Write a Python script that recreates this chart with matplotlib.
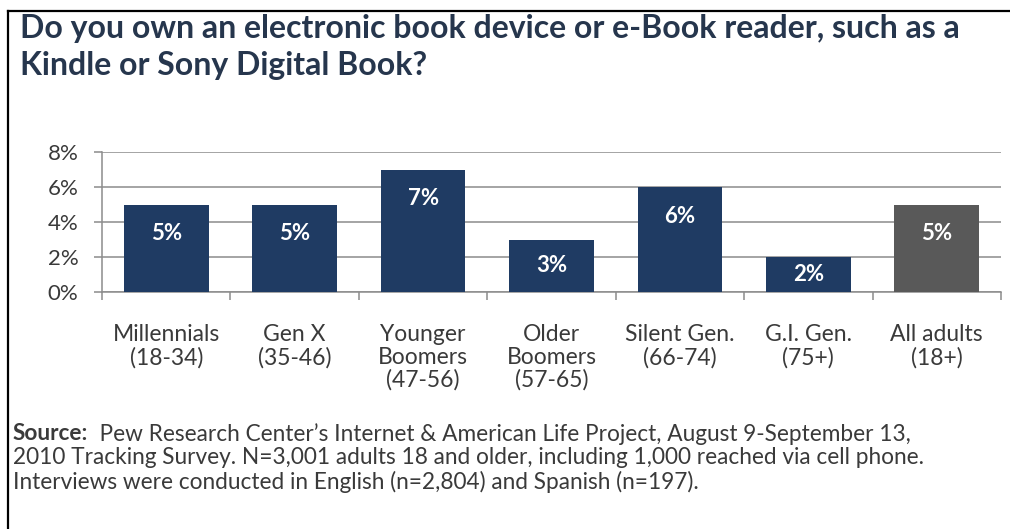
import matplotlib
matplotlib.use("Agg")
import matplotlib.pyplot as plt
from matplotlib.lines import Line2D
from matplotlib.ticker import FixedLocator

# Survey results: share of adults who own an e-book reader, by generation
categories = [
    "Millennials\n(18-34)",
    "Gen X\n(35-46)",
    "Younger\nBoomers\n(47-56)",
    "Older\nBoomers\n(57-65)",
    "Silent Gen.\n(66-74)",
    "G.I. Gen.\n(75+)",
    "All adults\n(18+)",
]
values = [5, 5, 7, 3, 6, 2, 5]
bar_labels = ["5%", "5%", "7%", "3%", "6%", "2%", "5%"]
y_ticks = [0, 2, 4, 6, 8]
y_tick_labels = ["0%", "2%", "4%", "6%", "8%"]

title = ("Do you own an electronic book device or e-Book reader, such as a\n"
         "Kindle or Sony Digital Book?")
source_head = "Source:"
source_lines = [
    "  Pew Research Center\u2019s Internet & American Life Project, August 9-September 13,",
    "2010 Tracking Survey. N=3,001 adults 18 and older, including 1,000 reached via cell phone.",
    "Interviews were conducted in English (n=2,804) and Spanish (n=197).",
]

NAVY = "#1f3b63"
GREY_BAR = "#595959"
GRID = "#8c8c8c"
TEXT = "#3a3a3a"
TITLE_C = "#26364d"
FONT = "Lato"

W, H = 1010, 529
fig = plt.figure(figsize=(W / 100, H / 100), dpi=100)
fig.patch.set_facecolor("white")


def fx(px):
    return px / W


def fy(py):
    return 1 - py / H


ax = fig.add_axes([fx(102), fy(292), fx(1001) - fx(102), fy(152) - fy(292)])

colors = [NAVY] * (len(values) - 1) + [GREY_BAR]
x = list(range(len(values)))
ax.bar(x, values, width=0.66, color=colors, zorder=3)

# value labels sit inside the bar, below the top, but never below the bar's middle
inset = 1.67
for xi, v, lab in zip(x, values, bar_labels):
    ypos = max(v / 2, v - inset)
    ax.text(xi, ypos, lab, ha="center", va="center", color="white",
            fontsize=16, fontweight="bold", family=FONT, zorder=4)

ax.set_xlim(-0.5, len(values) - 0.5)
ax.set_ylim(0, 8)
ax.set_yticks(y_ticks)
ax.set_yticklabels(y_tick_labels)
ax.yaxis.grid(True, color=GRID, linewidth=1.1, zorder=0)
ax.set_axisbelow(True)

ax.set_xticks(x)
ax.set_xticklabels(categories, linespacing=1.1)
ax.xaxis.set_minor_locator(FixedLocator([i + 0.5 for i in range(-1, len(values))]))
ax.tick_params(axis="x", which="major", length=0, pad=23, labelsize=16.5,
               labelcolor=TEXT)
ax.tick_params(axis="x", which="minor", length=6, width=1.1, color=GRID,
               direction="out")
ax.tick_params(axis="y", length=6, width=1.1, color=GRID, pad=11,
               labelsize=16, labelcolor=TEXT)
for lab in ax.get_xticklabels() + ax.get_yticklabels():
    lab.set_family(FONT)

for s in ("top", "right"):
    ax.spines[s].set_visible(False)
for s in ("left", "bottom"):
    ax.spines[s].set_color(GRID)
    ax.spines[s].set_linewidth(1.1)

# title
fig.text(fx(20), fy(14), title, ha="left", va="top", fontsize=23,
         fontweight="bold", color=TITLE_C, family=FONT, linespacing=1.35)

# source note: bold lead-in followed by regular text
src_size = 16.3
rows = [434, 458, 482]
t_head = fig.text(fx(13), fy(rows[0]), source_head, ha="left", va="center",
                  fontsize=src_size, fontweight="bold", color=TEXT, family=FONT)
fig.canvas.draw()
bb = t_head.get_window_extent(renderer=fig.canvas.get_renderer())
fig.text(bb.x1 / W, fy(rows[0]), source_lines[0], ha="left", va="center",
         fontsize=src_size, color=TEXT, family=FONT)
fig.text(fx(13), fy(rows[1]), source_lines[1], ha="left", va="center",
         fontsize=src_size, color=TEXT, family=FONT)
fig.text(fx(13), fy(rows[2]), source_lines[2], ha="left", va="center",
         fontsize=src_size, color=TEXT, family=FONT)

# frame: top and left rules
fig.add_artist(Line2D([fx(8), 1], [fy(11), fy(11)], color="black", lw=1.6))
fig.add_artist(Line2D([fx(8), fx(8)], [fy(11), 0], color="black", lw=1.6))

fig.savefig("out.png", dpi=100)
